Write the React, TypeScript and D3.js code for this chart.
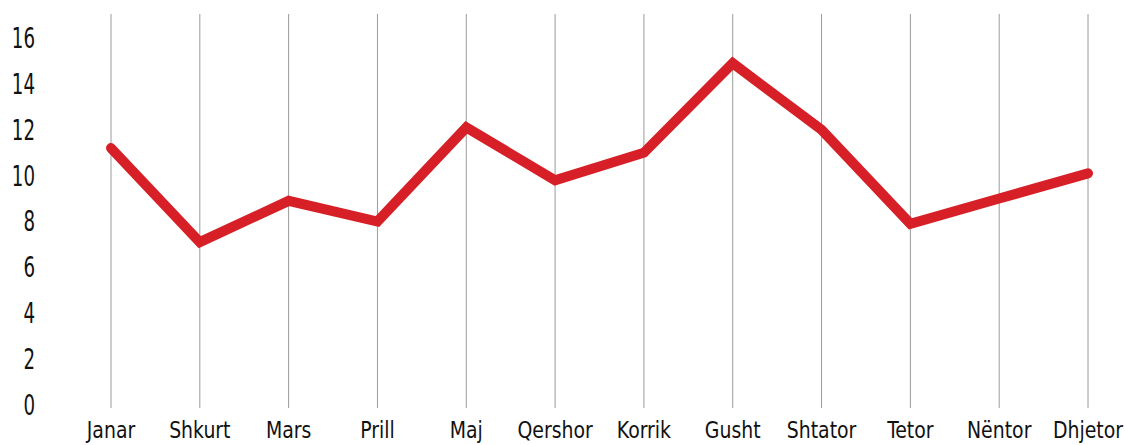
import { useEffect, useRef } from 'react'
import * as d3 from 'd3'

const MONTHS = ['Janar', 'Shkurt', 'Mars', 'Prill', 'Maj', 'Qershor', 'Korrik', 'Gusht', 'Shtator', 'Tetor', 'Nëntor', 'Dhjetor']
const VALUES = [11.2, 7.1, 8.9, 8.0, 12.1, 9.8, 11.0, 14.9, 12.0, 7.9, 9.0, 10.1]
const Y_TICKS = [0, 2, 4, 6, 8, 10, 12, 14, 16]

const W = 1125
const H = 445
const FONT = '"DejaVu Sans Condensed", "DejaVu Sans", sans-serif'

export default function App() {
  const svgRef = useRef<SVGSVGElement>(null)

  useEffect(() => {
    const svg = d3.select(svgRef.current)
    svg.selectAll('*').remove()

    const x = d3.scalePoint<string>().domain(MONTHS).range([111, 1088])
    const y = d3.scaleLinear().domain([0, 16]).range([405, 38])

    // vertical grid lines
    svg.append('g')
      .selectAll('line')
      .data(MONTHS)
      .enter()
      .append('line')
      .attr('x1', d => x(d)!)
      .attr('x2', d => x(d)!)
      .attr('y1', 14)
      .attr('y2', 408)
      .attr('stroke', '#9a9a9a')
      .attr('stroke-width', 1)

    // y labels (stretched vertically to mimic the narrow DIN-style face)
    svg.append('g')
      .selectAll('text')
      .data(Y_TICKS)
      .enter()
      .append('text')
      .attr('transform', d => `translate(35,${y(d)}) scale(0.92,1.25)`)
      .attr('dy', '0.36em')
      .attr('text-anchor', 'end')
      .attr('font-family', FONT)
      .attr('font-size', 22)
      .attr('fill', '#111')
      .text(d => d)

    // month labels
    svg.append('g')
      .selectAll('text')
      .data(MONTHS)
      .enter()
      .append('text')
      .attr('transform', d => `translate(${x(d)},438) scale(1,1.12)`)
      .attr('text-anchor', 'middle')
      .attr('font-family', FONT)
      .attr('font-size', 21)
      .attr('fill', '#111')
      .text(d => d)

    const line = d3.line<number>()
      .x((_, i) => x(MONTHS[i])!)
      .y(d => y(d))

    svg.append('path')
      .datum(VALUES)
      .attr('d', line)
      .attr('fill', 'none')
      .attr('stroke', '#d71f27')
      .attr('stroke-width', 10)
      .attr('stroke-linecap', 'round')
      .attr('stroke-linejoin', 'miter')
  }, [])

  return (
    <svg
      ref={svgRef}
      width={W}
      height={H}
      style={{ position: 'absolute', left: 0, top: 0, background: '#fff' }}
    />
  )
}
